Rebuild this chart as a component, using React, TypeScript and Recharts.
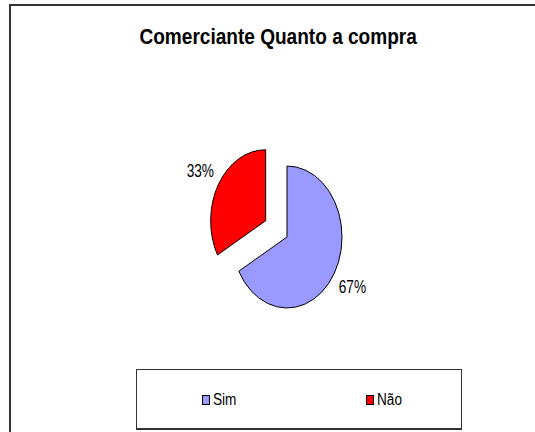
import { PieChart, Pie, Cell, Legend } from 'recharts'

const categories = ['Sim', 'Não']
const values = [67, 33]
const colors = ['#9999FF', '#FF0000']

const data = categories.map((name, i) => ({ name, value: values[i] }))

const RAD = Math.PI / 180
const SQUASH = 0.775 // pie is drawn as an upright ellipse
const EXPLODED = 'Não'
const EXPLODE = 0.45
const FONT = '"Liberation Sans", Arial, sans-serif'
const NARROW = 0.76 // the original uses a condensed face

// centre of a slice after pulling it out
function sliceCenter(p: any) {
  const mid = p.midAngle ?? (p.startAngle + p.endAngle) / 2
  const name = p.payload?.name ?? p.name
  const k = name === EXPLODED ? EXPLODE : 0
  return {
    mid,
    x: p.cx + Math.cos(-mid * RAD) * p.outerRadius * SQUASH * k,
    y: p.cy + Math.sin(-mid * RAD) * p.outerRadius * k,
  }
}

function EllipseSector(p: any) {
  const { x, y } = sliceCenter(p)
  const rx = p.outerRadius * SQUASH
  const ry = p.outerRadius
  const x1 = x + Math.cos(-p.startAngle * RAD) * rx
  const y1 = y + Math.sin(-p.startAngle * RAD) * ry
  const x2 = x + Math.cos(-p.endAngle * RAD) * rx
  const y2 = y + Math.sin(-p.endAngle * RAD) * ry
  const large = Math.abs(p.endAngle - p.startAngle) > 180 ? 1 : 0
  const d = `M${x},${y} L${x1},${y1} A${rx},${ry} 0 ${large} 1 ${x2},${y2} Z`
  return <path d={d} fill={p.fill} stroke="#000" strokeWidth={1} />
}

function renderLabel(p: any) {
  const { mid, x, y } = sliceCenter(p)
  const k = 1.38
  const lx = x + Math.cos(-mid * RAD) * p.outerRadius * SQUASH * k
  const ly = y + Math.sin(-mid * RAD) * p.outerRadius * k
  return (
    <text x={0} y={0} transform={`translate(${lx},${ly}) scale(${NARROW},1)`}
      textAnchor="middle" dominantBaseline="central"
      fontFamily={FONT} fontSize={18} fill="#000">
      {`${Math.round(p.percent * 100)}%`}
    </text>
  )
}

function LegendBox() {
  return (
    <div style={{
      width: 326, height: 61, boxSizing: 'border-box',
      borderTop: '1px solid #333', borderLeft: '1px solid #333',
      borderRight: '1px solid #333', borderBottom: '2px solid #333',
      position: 'relative', fontFamily: FONT, fontSize: 16, color: '#000'
    }}>
      {categories.map((name, i) => (
        <div key={name} style={{
          position: 'absolute', left: i === 0 ? 65 : 229, top: 21,
          display: 'flex', alignItems: 'center', height: 18
        }}>
          <span style={{
            width: 6, height: 8, background: colors[i], border: '1px solid #000',
            display: 'inline-block', marginRight: 3
          }} />
          <span style={{ display: 'inline-block', transform: 'scaleX(0.85)', transformOrigin: 'left center' }}>
            {name}
          </span>
        </div>
      ))}
    </div>
  )
}

export default function App() {
  return (
    <div style={{ position: 'absolute', left: 0, top: 0, width: 535, height: 432, overflow: 'hidden', background: '#fff' }}>
      {/* chart area frame (right/bottom edges fall outside the picture) */}
      <div style={{
        position: 'absolute', left: 9, top: 4, width: 700, height: 700,
        borderTop: '2px solid #333', borderLeft: '2px solid #333'
      }} />
      <div style={{
        position: 'absolute', left: 10, top: 24, width: 536, textAlign: 'center',
        fontFamily: FONT, fontWeight: 'bold', fontSize: 22, color: '#000'
      }}>
        <span style={{ display: 'inline-block', transform: 'scaleX(0.866)' }}>
          Comerciante Quanto a compra
        </span>
      </div>
      <div style={{ position: 'absolute', left: 0, top: 0 }}>
        <PieChart width={535} height={432} margin={{ top: 0, right: 0, bottom: 0, left: 0 }}>
          <Pie
            data={data}
            dataKey="value"
            nameKey="name"
            cx={287}
            cy={237}
            outerRadius={71}
            startAngle={90}
            endAngle={-270}
            stroke="#000"
            isAnimationActive={false}
            shape={EllipseSector}
            label={renderLabel}
            labelLine={false}
          >
            {data.map((d, i) => (
              <Cell key={d.name} fill={colors[i]} />
            ))}
          </Pie>
          <Legend
            content={() => <LegendBox />}
            wrapperStyle={{ position: 'absolute', left: 136, top: 369, width: 326, height: 61 }}
          />
        </PieChart>
      </div>
    </div>
  )
}
